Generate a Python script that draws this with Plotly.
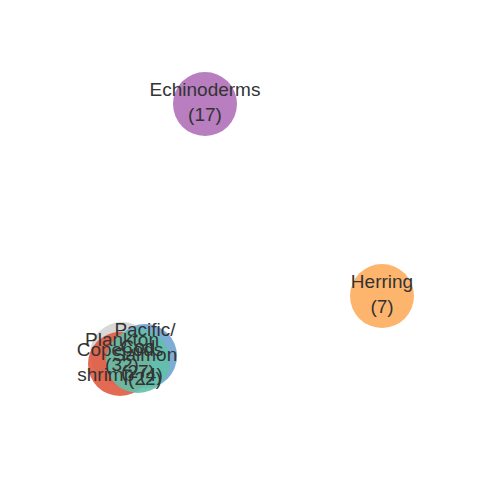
import plotly.graph_objects as go

# node layout positions (from force layout, in pixel-like units)
labels = ["Plankton<br>(32)", "Pacific/<br>Salmon<br>(22)", "Copepods<br>shrimp (4)", "Cod<br>(27)",
          "Echinoderms<br>(17)", "Herring<br>(7)"]
x_pos = [122, 145, 120, 138, 205, 382]
y_pos = [356, 358, 366, 363, 106, 298]
colors = ["#d4d4d4", "#6fa3d0", "#e05a40", "#60c0a8", "#b070b8", "#fdad5e"]

fig = go.Figure()
fig.add_trace(go.Scatter(
    x=x_pos, y=y_pos, mode="markers+text",
    text=labels, textposition="middle center",
    textfont=dict(family="Liberation Sans, Arial", size=19, color="#333333"),
    marker=dict(size=64, color=colors, opacity=0.9, line=dict(width=0)),
    hoverinfo="text", showlegend=False,
))
fig.update_layout(
    width=480, height=480,
    margin=dict(l=0, r=0, t=0, b=0),
    paper_bgcolor="white", plot_bgcolor="white",
    xaxis=dict(range=[8, 488], visible=False),
    yaxis=dict(range=[490, 10], visible=False),
)
fig.write_html("out.html")
